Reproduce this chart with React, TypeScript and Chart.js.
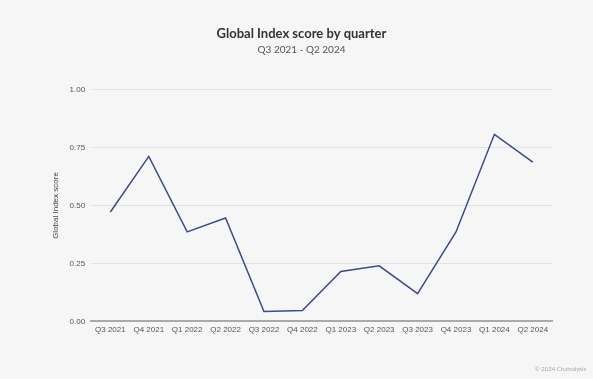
import React, { useEffect, useRef } from "react";
import { Chart, registerables } from "chart.js";

Chart.register(...registerables);

const categories = ["Q3 2021", "Q4 2021", "Q1 2022", "Q2 2022", "Q3 2022", "Q4 2022", "Q1 2023", "Q2 2023", "Q3 2023", "Q4 2023", "Q1 2024", "Q2 2024"];
const scores = [0.472, 0.712, 0.386, 0.446, 0.043, 0.047, 0.215, 0.24, 0.12, 0.386, 0.807, 0.687];
const titleText = "Global Index score by quarter";
const subtitleText = "Q3 2021 - Q2 2024";
const yAxisTitle = "Global Index score";
const footnote = "© 2024 Chainalysis";

const footnotePlugin = {
  id: "footnote",
  afterDraw(chart: any) {
    const ctx = chart.ctx;
    ctx.save();
    ctx.font = "6px Lato, 'Noto Sans', sans-serif";
    ctx.fillStyle = "#a8a8a8";
    ctx.textAlign = "right";
    ctx.textBaseline = "middle";
    ctx.fillText(footnote, 586, 369);
    ctx.restore();
  },
};

const bgPlugin = {
  id: "bg",
  beforeDraw(chart: any) {
    const ctx = chart.ctx;
    ctx.save();
    ctx.fillStyle = "#f6f6f6";
    ctx.fillRect(0, 0, chart.width, chart.height);
    ctx.restore();
  },
};

export default function App() {
  const ref = useRef<HTMLCanvasElement>(null);
  useEffect(() => {
    document.body.style.margin = "0";
    const chart = new Chart(ref.current!, {
      type: "line",
      data: {
        labels: categories,
        datasets: [
          {
            data: scores,
            borderColor: "#3d4a8a",
            borderWidth: 1.5,
            pointRadius: 0,
            tension: 0,
            fill: false,
          },
        ],
      },
      options: {
        animation: false,
        responsive: false,
        layout: { padding: { left: 51, right: 41, top: 0, bottom: 40 } },
        plugins: {
          legend: { display: false },
          tooltip: { enabled: false },
          title: {
            display: true,
            text: titleText,
            color: "#333333",
            font: { family: "Lato, 'Noto Sans', sans-serif", size: 13, weight: "bold" },
            padding: { top: 26, bottom: 2 },
          },
          subtitle: {
            display: true,
            text: subtitleText,
            color: "#555555",
            font: { family: "Lato, 'Noto Sans', sans-serif", size: 10 },
            padding: { top: 0, bottom: 34 },
          },
        },
        scales: {
          x: {
            offset: true,
            grid: { display: false, drawTicks: false },
            border: { display: true, color: "#aaaaaa", width: 2 },
            ticks: {
              color: "#555555",
              font: { family: "'Liberation Sans', Arial, sans-serif", size: 8 },
              padding: 4,
              maxRotation: 0,
              autoSkip: false,
            },
          },
          y: {
            min: 0,
            max: 1,
            grid: { color: "#e2e2e2", lineWidth: 1, drawTicks: false },
            border: { display: false },
            ticks: {
              stepSize: 0.25,
              color: "#555555",
              font: { family: "'Liberation Sans', Arial, sans-serif", size: 8 },
              padding: 6,
              callback: (v: any) => Number(v).toFixed(2),
            },
            title: {
              display: true,
              text: yAxisTitle,
              color: "#444444",
              font: { family: "'Liberation Sans', Arial, sans-serif", size: 8 },
              padding: { top: 0, bottom: 3 },
            },
          },
        },
      },
      plugins: [bgPlugin, footnotePlugin],
    });
    return () => chart.destroy();
  }, []);
  return (
    <div style={{ width: 593, height: 379 }}>
      <canvas ref={ref} width={593} height={379} style={{ display: "block" }} />
    </div>
  );
}
